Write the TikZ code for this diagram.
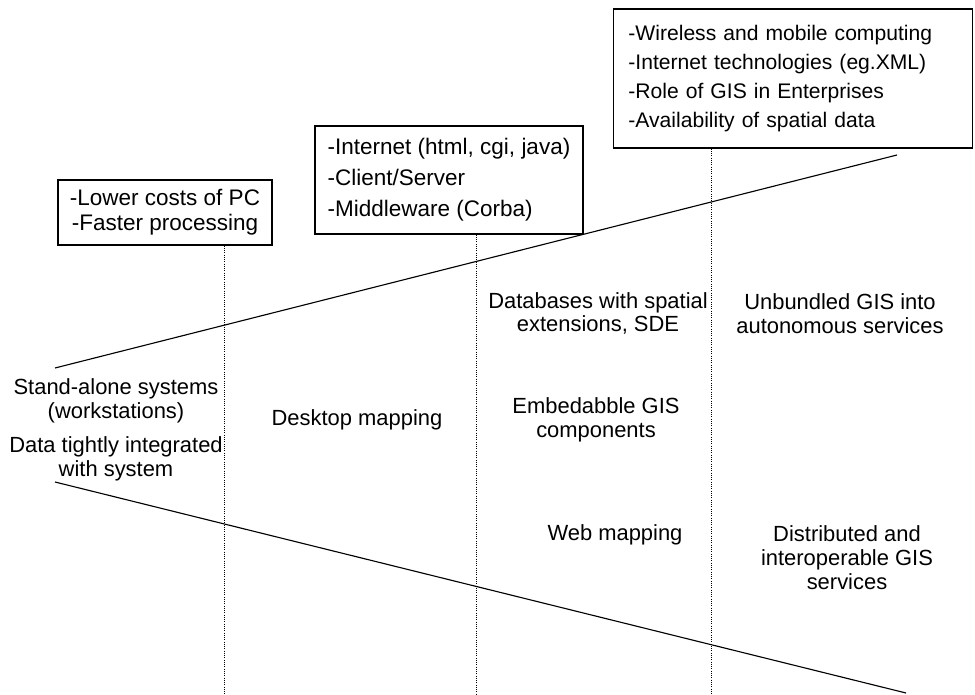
\documentclass[tikz,border=0pt]{standalone}
\usepackage{fontspec}
\setmainfont{Liberation Sans}
\usepackage{tikz}
\usetikzlibrary{positioning}

\begin{document}
\begin{tikzpicture}[x=0.025cm,y=-0.025cm,
    box/.style={draw,line width=0.8pt,align=left},
    lbl/.style={align=center,font=\fontsize{15.6}{17}\selectfont,inner sep=0pt},
    era/.style={densely dotted,line width=0.6pt}]
    \useasboundingbox (0,0) rectangle (975,695);
    % boxes
    \node[box,align=center,minimum width=5.35cm,minimum height=1.625cm,font=\fontsize{16}{17.7}\selectfont] (lowcost) at (165,212.5)
        {-Lower costs of PC\\-Faster processing};
    \node[box,minimum width=6.7cm,minimum height=2.7cm,inner ysep=2pt,font=\fontsize{16}{22}\selectfont] (internet) at (449,180)
        {-Internet (html, cgi, java)\\-Client/Server\\-Middleware (Corba)};
    \node[box,text width=8.225cm,inner xsep=0.375cm,minimum height=3.475cm,font=\fontsize{15}{20.6}\selectfont] (wireless) at (793,78.5)
        {-Wireless and mobile computing\\-Internet technologies (eg.XML)\\-Role of GIS in Enterprises\\-Availability of spatial data};
    % dotted era lines
    \coordinate (e1) at (224,695);
    \coordinate (e2) at (476,695);
    \coordinate (e3) at (711,695);
    \draw[era] (lowcost.south -| e1) -- (e1);
    \draw[era] (internet.south -| e2) -- (e2);
    \draw[era] (wireless.south -| e3) -- (e3);
    % widening lines
    \coordinate (top0) at (55,368);
    \coordinate (top1) at (897,155);
    \coordinate (bot0) at (55,482);
    \coordinate (bot1) at (906,693);
    \draw[line width=0.8pt] (top0) -- (top1);
    \draw[line width=0.8pt] (bot0) -- (bot1);
    % labels
    \node[lbl] (standalone) at (116,401) {Stand-alone systems\\(workstations)};
    \node[lbl] (tight) at (116,458.5) {Data tightly integrated\\with system};
    \node[lbl] (desktop) at (357,420) {Desktop mapping};
    \node[lbl] (spatialdb) at (598,313.5) {Databases with spatial\\extensions, SDE};
    \node[lbl] (unbundled) at (840,313.5) {Unbundled GIS into\\autonomous services};
    \node[lbl] (embed) at (596,419.5) {Embedabble GIS\\components};
    \node[lbl] (web) at (615,535) {Web mapping};
    \node[lbl] (distrib) at (847,558) {Distributed and\\interoperable GIS\\services};
\end{tikzpicture}
\end{document}
